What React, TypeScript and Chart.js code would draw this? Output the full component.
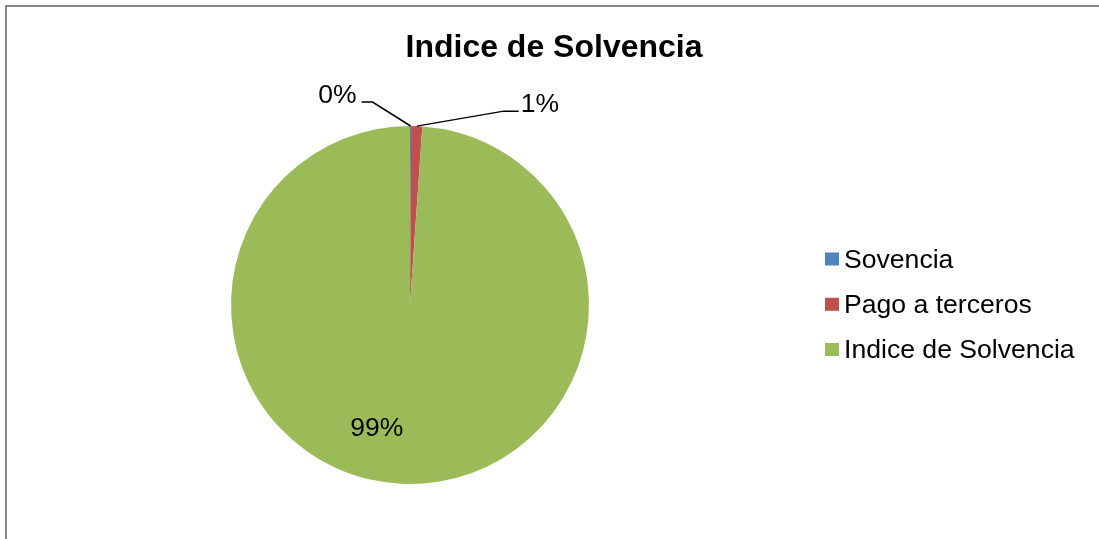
import React, { useEffect, useRef } from "react";
import { Chart, registerables } from "chart.js";

Chart.register(...registerables);

const categories = ["Sovencia", "Pago a terceros", "Indice de Solvencia"];
const values = [0.1, 1.0, 98.9];
const colors = ["#4F81BD", "#C0504D", "#9BBB59"];
const chartTitle = "Indice de Solvencia";

const FONT = '"Liberation Sans", Arial, sans-serif';

const labelStyles: any[] = [
  { mode: "outside", elbowDx: -38, elbowDy: -24, tail: -11, side: "left" },
  { mode: "outside", elbowDx: 87, elbowDy: -15, tail: 15, side: "right" },
  { mode: "inside", frac: 0.7, dx: -29, dy: 6 },
];

const decorPlugin = {
  id: "decor",
  beforeDraw(chart: any) {
    const ctx = chart.ctx;
    ctx.save();
    ctx.fillStyle = "#ffffff";
    ctx.fillRect(0, 0, chart.width, chart.height);
    ctx.strokeStyle = "#868686";
    ctx.lineWidth = 2;
    ctx.strokeRect(6, 6, chart.width + 50, chart.height + 50);
    ctx.restore();
  },
  afterDatasetsDraw(chart: any) {
    const ctx = chart.ctx;
    const meta = chart.getDatasetMeta(0);
    const total = values.reduce((a, b) => a + b, 0);
    ctx.save();
    ctx.font = `26.5px ${FONT}`;
    ctx.fillStyle = "#000000";
    ctx.strokeStyle = "#000000";
    ctx.lineWidth = 1.5;
    meta.data.forEach((arc: any, i: number) => {
      const p = arc.getProps(["x", "y", "startAngle", "endAngle", "outerRadius"], true);
      const mid = (p.startAngle + p.endAngle) / 2;
      const text = Math.round((values[i] / total) * 100) + "%";
      const st = labelStyles[i];
      if (st.mode === "outside") {
        const ax = p.x + Math.cos(mid) * p.outerRadius;
        const ay = p.y + Math.sin(mid) * p.outerRadius;
        const ex = ax + st.elbowDx;
        const ey = ay + st.elbowDy;
        const tx = ex + st.tail;
        ctx.beginPath();
        ctx.moveTo(ax, ay);
        ctx.lineTo(ex, ey);
        ctx.lineTo(tx, ey);
        ctx.stroke();
        ctx.textBaseline = "alphabetic";
        if (st.side === "left") {
          ctx.textAlign = "right";
          ctx.fillText(text, tx - 5, ey + 0.5);
        } else {
          ctx.textAlign = "left";
          ctx.fillText(text, tx + 2, ey + 0.5);
        }
      } else {
        const px = p.x + Math.cos(mid) * p.outerRadius * st.frac + st.dx;
        const py = p.y + Math.sin(mid) * p.outerRadius * st.frac + st.dy;
        ctx.textAlign = "center";
        ctx.textBaseline = "alphabetic";
        ctx.fillText(text, px, py);
      }
    });
    ctx.restore();
  },
  afterDraw(chart: any) {
    const ctx = chart.ctx;
    ctx.save();
    // title
    ctx.font = `bold 32px ${FONT}`;
    ctx.fillStyle = "#000000";
    ctx.textAlign = "center";
    ctx.textBaseline = "alphabetic";
    ctx.fillText(chartTitle, 554, 57);
    // legend
    ctx.font = `26.6px ${FONT}`;
    ctx.textAlign = "left";
    categories.forEach((label, i) => {
      const cy = 259 + i * 45.25;
      ctx.fillStyle = colors[i];
      ctx.fillRect(825, cy - 6.5, 14, 13);
      ctx.fillStyle = "#000000";
      ctx.fillText(label, 844, cy + 8.5);
    });
    ctx.restore();
  },
};

export default function App() {
  const canvasRef = useRef<HTMLCanvasElement | null>(null);

  useEffect(() => {
    if (!canvasRef.current) return;
    const chart = new Chart(canvasRef.current, {
      type: "pie",
      data: {
        labels: categories,
        datasets: [
          {
            data: values,
            backgroundColor: colors,
            borderWidth: 0,
          },
        ],
      },
      options: {
        responsive: false,
        animation: false,
        layout: { padding: { left: 231, right: 510, top: 126, bottom: 55 } },
        plugins: {
          legend: { display: false },
          title: { display: false },
          tooltip: { enabled: false },
        },
      },
      plugins: [decorPlugin],
    });
    return () => chart.destroy();
  }, []);

  return (
    <div style={{ position: "absolute", left: 0, top: 0, width: 1099, height: 539 }}>
      <canvas ref={canvasRef} width={1099} height={539} style={{ display: "block" }} />
    </div>
  );
}
